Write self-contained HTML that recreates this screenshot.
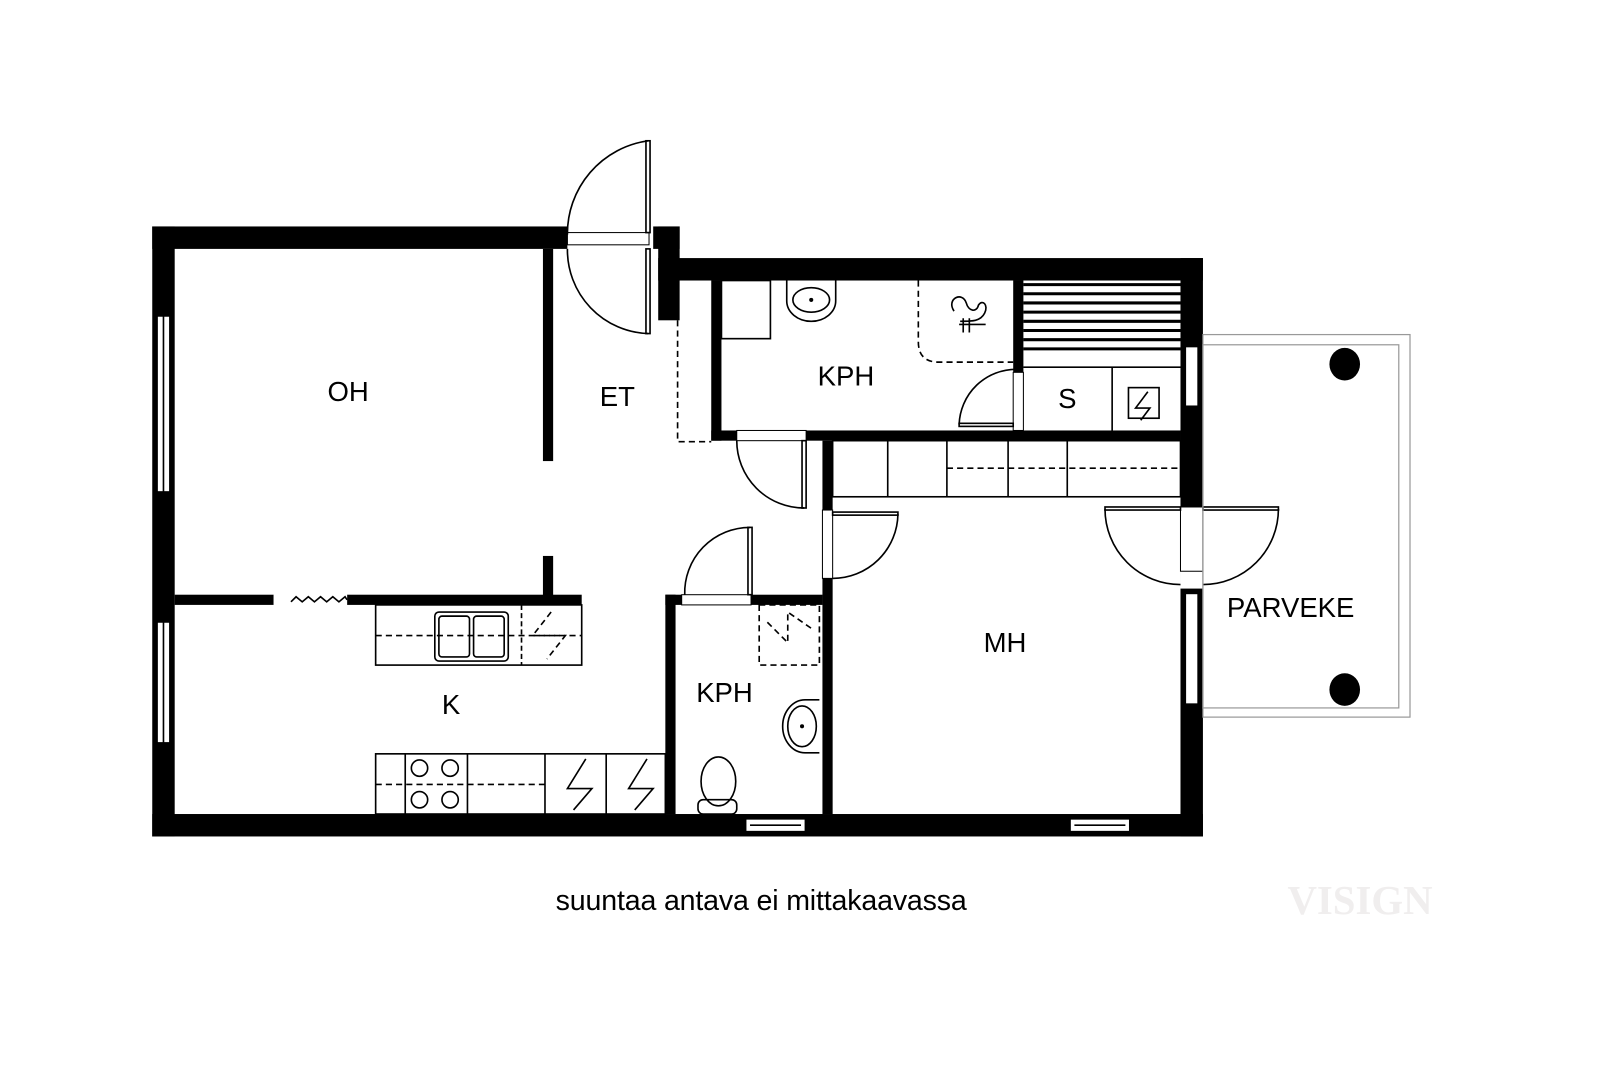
<!DOCTYPE html>
<html><head><meta charset="utf-8"><style>
html,body{margin:0;padding:0;background:#fff;width:1600px;height:1067px;overflow:hidden}
svg{display:block}
text{font-family:"Liberation Sans",sans-serif;fill:#000}
</style></head><body>
<svg width="1600" height="1067" viewBox="0 0 1568 1046" xmlns="http://www.w3.org/2000/svg">
<g fill="#000">
<rect x="149" y="222" width="407" height="22"/>
<rect x="640" y="222" width="26" height="22"/>
<rect x="645" y="222" width="21" height="92"/>
<rect x="645" y="253" width="534" height="22"/>
<rect x="149" y="222" width="22" height="598"/>
<rect x="1157" y="253" width="22" height="567"/>
<rect x="149" y="798" width="1030" height="22"/>
<rect x="532" y="244" width="10" height="208"/>
<rect x="532" y="545" width="10" height="45"/>
<rect x="171" y="583" width="97" height="10"/>
<rect x="340" y="583" width="230" height="10"/>
<rect x="697" y="275" width="10" height="157"/>
<rect x="697" y="422" width="460" height="10"/>
<rect x="993" y="275" width="10" height="90"/>
<rect x="806" y="432" width="10" height="366"/>
<rect x="652" y="583" width="154" height="10"/>
<rect x="652" y="583" width="10" height="215"/>
</g>
<g fill="#fff" stroke="#000" stroke-width="1">
<rect x="154" y="310" width="12" height="172"/>
<rect x="154" y="610" width="12" height="118"/>
<rect x="731" y="803" width="58" height="12"/>
<rect x="1049" y="803" width="58" height="12"/>
<rect x="1162" y="340" width="12" height="58"/>
<rect x="1162" y="582" width="12" height="108"/>
<rect x="1157" y="497" width="22" height="80" stroke="none"/>
<rect x="1157" y="497" width="22" height="63"/>
<rect x="556" y="222" width="84" height="22" stroke="none"/>
<rect x="556" y="228" width="80" height="12"/>
<rect x="268" y="583" width="72" height="10" stroke="none"/>
<rect x="806" y="500" width="10" height="67"/>
<rect x="993" y="365" width="10" height="57"/>
<rect x="722" y="422" width="68" height="10"/>
<rect x="668" y="583" width="68" height="10"/>
</g>
<g fill="none" stroke="#000" stroke-width="1.6">
<polyline points="160,310 160,482"/><polyline points="160,610 160,728"/>
<polyline points="735,809 785,809"/><polyline points="1053,809 1103,809"/>
<polyline points="285,590 290,585 296,590 302,585 308,590 314,585 320,590 326,585 332,590 338,585 340,588"/>
<rect x="633" y="138" width="4" height="90"/>
<rect x="633" y="244" width="4" height="83"/>
<path d="M635,138 A92,92 0 0 0 556,230"/>
<path d="M556,244 A82,82 0 0 0 635,327"/>
<path d="M664,314 V433 H697" stroke-dasharray="6,4"/>
<rect x="786" y="432" width="4" height="66"/>
<path d="M722,432 A66,66 0 0 0 788,498"/>
<rect x="733" y="517" width="4" height="66"/>
<path d="M671,583 A64,64 0 0 1 735,517"/>
<rect x="816" y="502" width="64" height="3"/>
<path d="M880,504 A64,64 0 0 1 816,567"/>
<rect x="1083" y="497" width="74" height="3"/>
<rect x="1179" y="497" width="74" height="3"/>
<path d="M1083,499 A74,74 0 0 0 1157,573"/>
<path d="M1253,499 A74,74 0 0 1 1179,573"/>
<rect x="940" y="415" width="53" height="3"/>
<path d="M940,416 A56,56 0 0 1 996,362"/>
<rect x="707" y="275" width="48" height="57"/>
<path d="M771,275 V295 A24,20 0 0 0 819,295 V275"/>
<ellipse cx="795" cy="294" rx="18" ry="12"/>
<path d="M900,275 V335 Q900,355 920,355 H993" stroke-dasharray="6,4"/>
<path d="M935,305 c-8,-12 8,-20 12,-8 c2,8 10,10 12,2 c4,-6 10,0 6,8 c-4,8 -12,8 -24,8 M940,318 h26 M944,312 v14 M950,312 v14"/>
<g stroke-width="3"><line x1="1003" y1="279" x2="1157" y2="279"/><line x1="1003" y1="288" x2="1157" y2="288"/><line x1="1003" y1="297" x2="1157" y2="297"/><line x1="1003" y1="306" x2="1157" y2="306"/><line x1="1003" y1="315" x2="1157" y2="315"/><line x1="1003" y1="324" x2="1157" y2="324"/><line x1="1003" y1="333" x2="1157" y2="333"/><line x1="1003" y1="342" x2="1157" y2="342"/></g>
<line x1="1003" y1="360" x2="1157" y2="360"/>
<line x1="1090" y1="360" x2="1090" y2="422"/>
<rect x="1106" y="380" width="30" height="30"/>
<path d="M1125,384 L1113,400 H1127 L1118,412"/>
<rect x="816" y="432" width="341" height="55"/>
<line x1="870" y1="432" x2="870" y2="487"/><line x1="928" y1="432" x2="928" y2="487"/><line x1="988" y1="432" x2="988" y2="487"/><line x1="1046" y1="432" x2="1046" y2="487"/>
<line x1="928" y1="459" x2="1157" y2="459" stroke-dasharray="6,4"/>
<rect x="368" y="593" width="202" height="59"/>
<line x1="368" y1="623" x2="570" y2="623" stroke-dasharray="6,4"/>
<line x1="511" y1="593" x2="511" y2="652" stroke-dasharray="5,3"/>
<rect x="426" y="600" width="72" height="48" rx="4"/>
<rect x="430" y="604" width="30" height="40" rx="3"/><rect x="464" y="604" width="30" height="40" rx="3"/>
<path d="M540,600 L522,623 H554 L536,646" stroke-dasharray="6,4"/>
<rect x="368" y="739" width="284" height="59"/>
<line x1="397" y1="739" x2="397" y2="798"/><line x1="458" y1="739" x2="458" y2="798"/><line x1="534" y1="739" x2="534" y2="798"/><line x1="594" y1="739" x2="594" y2="798"/>
<line x1="368" y1="769" x2="534" y2="769" stroke-dasharray="6,4"/>
<circle cx="411" cy="753" r="8"/><circle cx="441" cy="753" r="8"/><circle cx="411" cy="784" r="8"/><circle cx="441" cy="784" r="8"/>
<path d="M574,744 L556,773 H580 L562,794"/>
<path d="M634,744 L616,773 H640 L622,794"/>
<rect x="744" y="593" width="59" height="59" stroke-dasharray="6,4"/>
<path d="M752,610 L772,630 V600 L798,618" stroke-dasharray="6,4"/>
<path d="M803,686 H789 A22,26 0 0 0 789,738 H803"/>
<ellipse cx="786" cy="712" rx="14" ry="20"/>
<ellipse cx="704" cy="766" rx="17" ry="24"/>
<rect x="684" y="784" width="38" height="14" rx="5"/>
<rect x="1179" y="328" width="203" height="375" stroke="#999" stroke-width="1.2"/>
<rect x="1179" y="338" width="192" height="356" stroke="#999" stroke-width="1.2"/>
</g>
<ellipse cx="1318" cy="357" rx="15" ry="16"/>
<ellipse cx="1318" cy="676" rx="15" ry="16"/>
<circle cx="795" cy="294" r="2"/><circle cx="786" cy="712" r="2"/>
<g font-size="27">
<text x="341" y="393" text-anchor="middle">OH</text>
<text x="605" y="398" text-anchor="middle">ET</text>
<text x="829" y="378" text-anchor="middle">KPH</text>
<text x="1046" y="400" text-anchor="middle">S</text>
<text x="710" y="688" text-anchor="middle">KPH</text>
<text x="442" y="700" text-anchor="middle">K</text>
<text x="985" y="639" text-anchor="middle">MH</text>
<text x="1265" y="605" text-anchor="middle">PARVEKE</text>
<text x="746" y="892" text-anchor="middle" font-size="28" textLength="403">suuntaa antava ei mittakaavassa</text>
</g>
<text x="1333" y="896" text-anchor="middle" font-size="40" font-weight="bold" style="font-family:'Liberation Serif',serif;fill:#f0eeee">VISIGN</text>
</svg>
</body></html>
